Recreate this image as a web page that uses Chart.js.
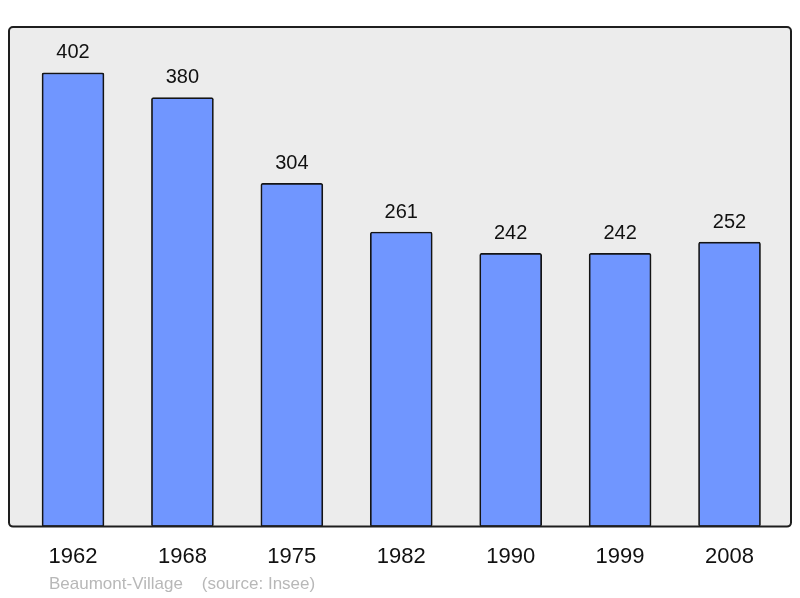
<!DOCTYPE html>
<html>
<head>
<meta charset="utf-8">
<script src="https://cdn.jsdelivr.net/npm/chart.js@4"></script>
<style>
  html, body { margin: 0; padding: 0; background: #fff; }
  #wrap { position: relative; width: 800px; height: 598px; }
  #footer { position: absolute; left: 49px; top: 574px; font: 17px "Liberation Sans", Arial, sans-serif; color: #b8b8b8; white-space: pre; }
</style>
</head>
<body>
<div id="wrap">
  <canvas id="myChart" width="800" height="598"></canvas>
  <div id="footer">Beaumont-Village    (source: Insee)</div>
</div>
<script>
// données
const years = ["1962", "1968", "1975", "1982", "1990", "1999", "2008"];
const population = [402, 380, 304, 261, 242, 242, 252];

const points = population.map((v, i) => ({ x: i, y: v }));

// fond gris + cadre
const boxPlugin = {
  id: "box",
  beforeDatasetsDraw(chart) {
    const a = chart.chartArea;
    const ctx = chart.ctx;
    ctx.save();
    ctx.fillStyle = "#ececec";
    ctx.beginPath();
    ctx.roundRect(a.left, a.top, a.right - a.left, a.bottom - a.top, 4);
    ctx.fill();
    ctx.restore();
  },
  afterDatasetsDraw(chart) {
    const a = chart.chartArea;
    const ctx = chart.ctx;
    ctx.save();
    ctx.strokeStyle = "#1e1e1e";
    ctx.lineWidth = 2;
    ctx.beginPath();
    ctx.roundRect(a.left, a.top, a.right - a.left, a.bottom - a.top, 4);
    ctx.stroke();

    // valeurs au-dessus des barres
    const meta = chart.getDatasetMeta(0);
    ctx.fillStyle = "#111";
    ctx.font = '20px "Liberation Sans", Arial, sans-serif';
    ctx.textAlign = "center";
    ctx.textBaseline = "middle";
    meta.data.forEach((bar, i) => {
      ctx.fillText(String(population[i]), bar.x, bar.y - 20);
    });
    ctx.restore();
  },
};

new Chart(document.getElementById("myChart"), {
  type: "bar",
  data: {
    datasets: [
      {
        data: points,
        backgroundColor: "#7096ff",
        borderColor: "#141414",
        borderWidth: 1.7,
        borderRadius: 2,
        borderSkipped: false,
        barThickness: 62,
      },
    ],
  },
  options: {
    responsive: false,
    animation: false,
    layout: { padding: { left: 9, right: 9, top: 27, bottom: 11 } },
    plugins: { legend: { display: false }, tooltip: { enabled: false } },
    scales: {
      x: {
        type: "linear",
        offset: false,
        min: -0.585,
        max: 6.562,
        grid: { display: false, drawTicks: false, offset: false },
        border: { display: false },
        afterBuildTicks(scale) {
          scale.ticks = years.map((y, i) => ({ value: i }));
        },
        ticks: {
          padding: 17,
          color: "#111",
          font: { family: "'Liberation Sans', Arial, sans-serif", size: 22 },
          maxRotation: 0,
          autoSkip: false,
          callback: (v) => years[v] ?? "",
        },
      },
      y: {
        display: false,
        min: 0,
        max: 442.6,
      },
    },
  },
  plugins: [boxPlugin],
});
</script>
</body>
</html>
